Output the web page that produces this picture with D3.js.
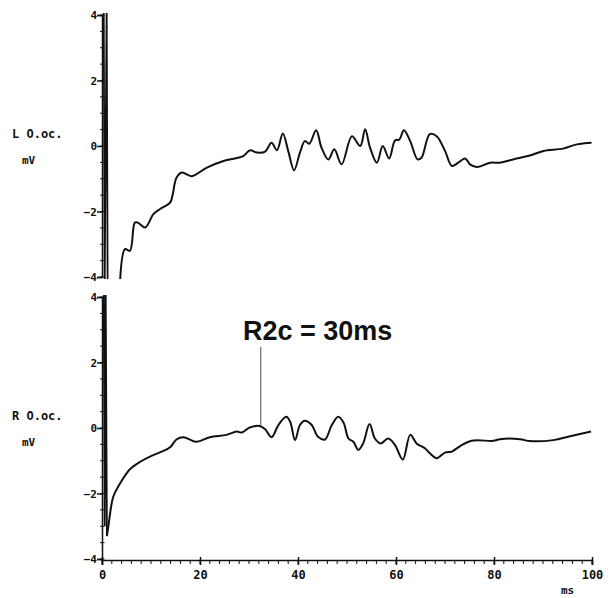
<!DOCTYPE html>
<html>
<head>
<meta charset="utf-8">
<script src="https://cdn.jsdelivr.net/npm/d3@7"></script>
<style>
  body { margin: 0; background: #fff; }
  text { font-family: "DejaVu Sans Mono", monospace; font-weight: bold; fill: #111; }
</style>
</head>
<body>
<script>
let w = 608;
let h = 598;

// stimulus artifact (near-vertical spikes at t ~ 1 ms)
let artifactL = [[0.35, 4.3], [0.55, -4.3], [0.95, 4.3], [1.15, -4.3]];
let artifactR = [[0.35, 4.3], [0.55, -3.0], [0.75, 4.3], [1.0, -3.3]];

// left eye trace, [ms, mV]
let traceL = [
  [3.7, -4.1], [4.7, -3.15], [5.7, -3.2], [6.7, -2.34], [7.3, -2.34], [8.8, -2.49],
  [10.5, -2.08], [11.8, -1.93], [13.9, -1.73], [14.4, -1.5], [15.2, -0.97], [16.3, -0.81],
  [18.3, -0.92], [21.4, -0.66], [24.8, -0.46], [28.8, -0.31], [30.2, -0.13], [31.6, -0.2],
  [33.3, -0.17], [34.6, 0.1], [35.7, -0.13], [36.9, 0.38], [38.0, -0.15], [39.2, -0.74],
  [40.4, -0.2], [41.4, 0.15], [42.3, 0.07], [43.7, 0.48], [44.8, -0.05], [46.2, -0.41],
  [47.4, -0.1], [48.9, -0.56], [51.0, 0.3], [52.7, 0.0], [53.7, 0.51], [54.7, -0.05],
  [56.1, -0.51], [57.3, 0.0], [58.6, -0.38], [59.8, 0.17], [60.7, 0.2], [61.6, 0.48],
  [62.9, 0.15], [64.4, -0.41], [65.2, -0.36], [66.9, 0.36], [68.3, 0.3], [70.0, -0.15],
  [71.4, -0.61], [72.7, -0.51], [74.1, -0.38], [75.1, -0.56], [76.5, -0.64], [79.2, -0.51],
  [81.2, -0.51], [83.9, -0.41], [87.3, -0.29], [90.1, -0.15], [94.1, -0.08], [96.9, 0.05],
  [99.9, 0.1]
];

// right eye trace, [ms, mV]
let traceR = [
  [1.0, -3.3], [1.3, -3.0], [2.3, -2.1], [3.7, -1.69], [5.7, -1.26], [7.8, -1.03],
  [10.1, -0.85], [12.2, -0.72], [13.9, -0.59], [15.2, -0.35], [16.6, -0.28], [19.3, -0.42],
  [22.0, -0.28], [25.4, -0.21], [27.5, -0.11], [28.5, -0.14], [30.2, 0.02], [32.2, 0.06],
  [33.3, -0.04], [34.6, -0.28], [36.0, 0.09], [37.6, 0.34], [38.4, 0.19], [39.4, -0.37],
  [40.4, 0.09], [41.4, 0.22], [42.8, 0.09], [44.1, -0.27], [45.5, -0.35], [46.9, 0.09],
  [48.2, 0.34], [49.3, 0.16], [50.3, -0.32], [51.3, -0.42], [52.3, -0.67], [53.3, -0.47],
  [54.6, 0.12], [55.7, -0.32], [56.9, -0.47], [58.4, -0.32], [59.8, -0.52], [61.4, -0.96],
  [62.9, -0.21], [64.2, -0.47], [65.9, -0.62], [66.9, -0.77], [68.3, -0.92], [70.0, -0.75],
  [71.4, -0.72], [73.1, -0.55], [75.4, -0.39], [79.9, -0.39], [81.2, -0.34], [85.3, -0.34],
  [87.3, -0.4], [92.1, -0.37], [95.5, -0.25], [99.8, -0.11]
];

let yTicks = [-4, -2, 0, 2, 4];
let xTicks = [0, 20, 40, 60, 80, 100];
let markerMs = 32.4;
let markerText = "R2c = 30ms";

let svg = d3.select("body").append("svg").attr("width", w).attr("height", h);

let xScale = d3.scaleLinear().domain([0, 100]).range([102, 592]);
let yTop = d3.scaleLinear().domain([-4, 4]).range([277, 15]);
let yBot = d3.scaleLinear().domain([-4, 4]).range([559, 297]);

svg.append("defs").append("clipPath").attr("id", "clipTop")
  .append("rect").attr("x", 102).attr("y", 13).attr("width", 495).attr("height", 266);
svg.select("defs").append("clipPath").attr("id", "clipBot")
  .append("rect").attr("x", 102).attr("y", 295).attr("width", 495).attr("height", 266);

function drawPanel(yScale, trace, artifact, clipId, title) {
  let g = svg.append("g");

  // y axis with minor ticks
  let yAxis = d3.axisLeft(yScale).tickValues(yTicks).tickSize(5).tickFormat(d3.format("d"));
  let ax = g.append("g").attr("transform", "translate(102,0)").call(yAxis);
  ax.select(".domain").attr("stroke", "#111").attr("stroke-width", 1.5);
  ax.selectAll(".tick line").attr("stroke", "#111").attr("stroke-width", 1.5);
  ax.selectAll(".tick text").attr("font-size", "11px").attr("x", -5).attr("fill", "#111")
    .style("font-family", "DejaVu Sans Mono").style("font-weight", "bold");
  g.selectAll("line.minor")
    .data(d3.range(-4, 4.01, 0.5))
    .enter()
    .append("line")
    .attr("x1", 100).attr("x2", 104.5)
    .attr("y1", (d) => yScale(d)).attr("y2", (d) => yScale(d))
    .attr("stroke", "#111").attr("stroke-width", 1);

  let line = d3.line()
    .x((d) => xScale(d[0]))
    .y((d) => yScale(d[1]))
    .curve(d3.curveCatmullRom.alpha(0.5));

  g.append("path")
    .datum(artifact)
    .attr("clip-path", "url(#" + clipId + ")")
    .attr("d", d3.line().x((d) => xScale(d[0])).y((d) => yScale(d[1])))
    .attr("fill", "none").attr("stroke", "#111").attr("stroke-width", 1.8);

  g.append("path")
    .datum(trace)
    .attr("clip-path", "url(#" + clipId + ")")
    .attr("d", line)
    .attr("fill", "none").attr("stroke", "#111").attr("stroke-width", 2)
    .attr("stroke-linejoin", "round");

  g.append("text").attr("x", 12).attr("y", yScale(0) - 8)
    .attr("font-size", "12px").text(title);
  g.append("text").attr("x", 22).attr("y", yScale(0) + 18)
    .attr("font-size", "11px").text("mV");
}

drawPanel(yTop, traceL, artifactL, "clipTop", "L O.oc.");
drawPanel(yBot, traceR, artifactR, "clipBot", "R O.oc.");

// x axis under the bottom panel
let xAxis = d3.axisBottom(xScale).tickValues(xTicks).tickSize(5).tickFormat(d3.format("d"));
let xg = svg.append("g").attr("transform", "translate(0,560)").call(xAxis);
xg.select(".domain").attr("stroke", "#111").attr("stroke-width", 1.5);
xg.selectAll(".tick line").attr("stroke", "#111").attr("stroke-width", 1.5).attr("y1", -3);
xg.selectAll(".tick text").attr("font-size", "12px").attr("y", 10).attr("fill", "#111")
  .style("font-family", "DejaVu Sans Mono").style("font-weight", "bold");
svg.selectAll("line.xminor")
  .data(d3.range(0, 100.1, 2))
  .enter()
  .append("line")
  .attr("x1", (d) => xScale(d)).attr("x2", (d) => xScale(d))
  .attr("y1", 560).attr("y2", 564)
  .attr("stroke", "#111").attr("stroke-width", 1);
svg.append("text").attr("x", 561).attr("y", 594).attr("font-size", "11px").text("ms");

// latency marker
let mx = xScale(markerMs);
svg.append("line")
  .attr("x1", mx).attr("x2", mx)
  .attr("y1", 347).attr("y2", yBot(0.06))
  .attr("stroke", "#222").attr("stroke-width", 0.8);
svg.append("text")
  .attr("x", 243).attr("y", 340)
  .style("font-family", "Liberation Sans, Arial, sans-serif")
  .style("font-weight", "bold")
  .attr("font-size", "27px")
  .text(markerText);
</script>
</body>
</html>
